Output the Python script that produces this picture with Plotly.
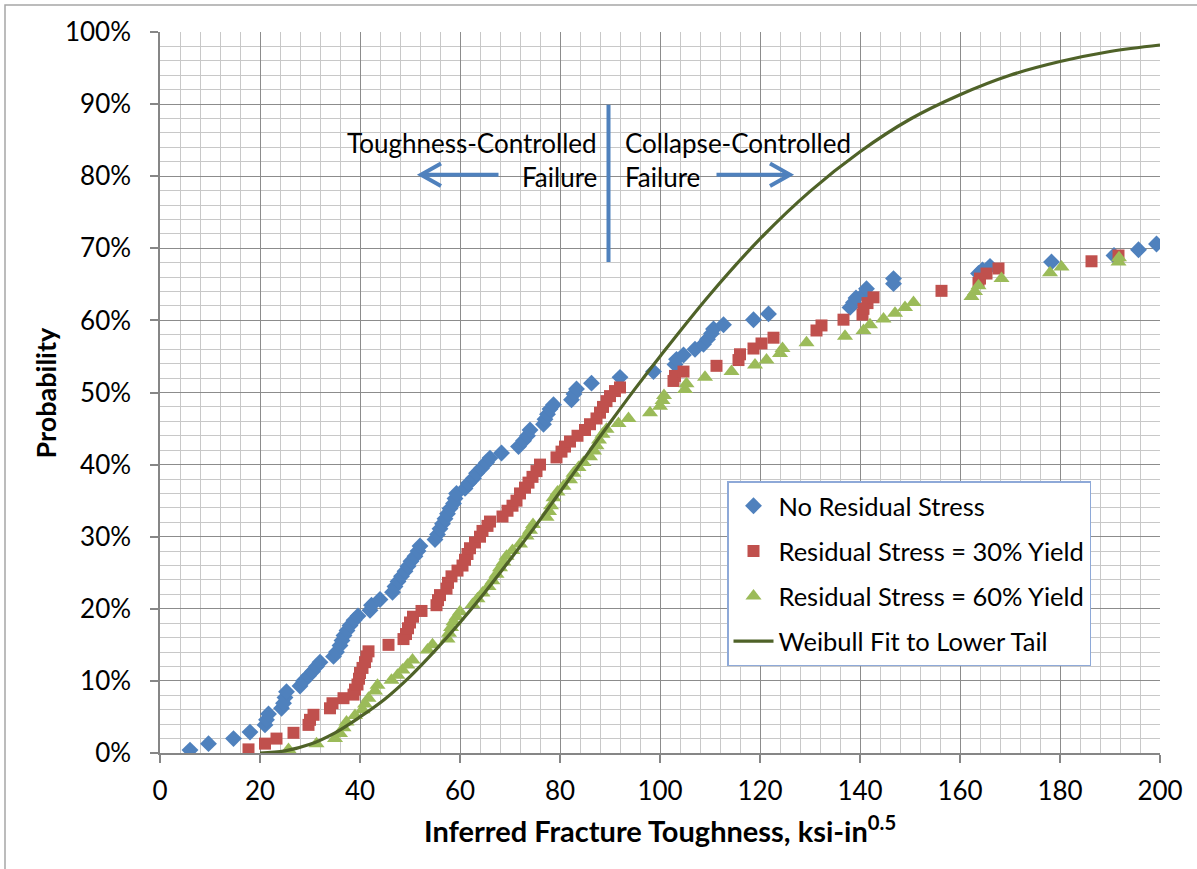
import plotly.graph_objects as go

# --- Inferred fracture toughness (ksi-in^0.5) and cumulative probability (%) ---
no_rs_x = [6, 9.7, 14.7, 18, 21, 21.3, 21.7, 24.3, 24.7, 25, 25.3, 28, 28.7, 29.7, 30.5, 31.3, 32,
           34.7, 35.3, 36, 36.4, 36.8, 37.4, 38, 38.8, 39.6, 42, 42.3, 44, 46.5, 47, 47.6, 48.3, 49,
           49.6, 50.2, 51, 51.6, 52, 55, 55.5, 56, 56.5, 57, 57.5, 58, 58.7, 59, 59.3, 61, 61.7, 62.7,
           63.3, 64.3, 65.3, 66, 68.3, 71.7, 72.7, 73.5, 74, 76.7, 77, 77.5, 78, 78.7, 82.3, 82.8,
           83.3, 86.3, 92, 98.7, 103, 103.3, 104.7, 107, 108.7, 109.5, 110.3, 110.7, 112.7, 118.7,
           121.7, 138, 138.7, 139.2, 141, 141.3, 146.7, 146.7, 163.7, 164.5, 166, 178.3, 190.8,
           195.7, 199.3]
no_rs_p = [0.4, 1.3, 2.0, 2.9, 3.9, 4.6, 5.4, 6.2, 6.9, 7.7, 8.5, 9.3, 10.0, 10.7, 11.3, 12.0, 12.6,
           13.4, 14.0, 14.9, 15.6, 16.3, 17.0, 17.7, 18.4, 19.0, 19.8, 20.5, 21.3, 22.3, 23.1, 23.8,
           24.5, 25.2, 25.9, 26.6, 27.3, 28.0, 28.7, 29.6, 30.3, 31.1, 31.8, 32.5, 33.2, 33.9, 34.6,
           35.3, 36.0, 36.7, 37.4, 38.1, 38.8, 39.5, 40.3, 40.9, 41.6, 42.5, 43.3, 44.0, 44.8, 45.6,
           46.3, 47.0, 47.7, 48.3, 49.0, 49.8, 50.5, 51.3, 52.1, 52.9, 53.9, 54.6, 55.2, 56.0, 56.7,
           57.4, 58.2, 58.8, 59.4, 60.1, 60.9, 61.8, 62.5, 63.1, 63.8, 64.4, 65.1, 65.8, 66.5, 67.0,
           67.5, 68.1, 69.0, 69.8, 70.6]

rs30_x = [17.7, 21, 23.3, 26.7, 29.7, 30, 30.7, 34, 34.5, 36.7, 38.7, 39, 39.5, 39.8, 40, 40.5, 41,
          41.3, 41.7, 45.7, 48.7, 49.2, 49.6, 50, 50.6, 52.3, 55.3, 55.6, 56, 57.3, 57.6, 58.3, 59.5,
          60.5, 61, 61.5, 62, 63, 64, 64.5, 65.5, 66, 68.5, 69.5, 70.5, 71.3, 72, 73, 73.7, 74.5,
          75.3, 76, 79.3, 80.3, 81, 82, 83.5, 85, 86, 87.3, 88, 88.6, 89.3, 90, 91, 92, 102.7, 103,
          104.7, 111.3, 115.7, 116, 118.7, 120.3, 122.7, 131.3, 132.3, 136.7, 140.5, 140.7, 141.5,
          142.7, 156.3, 163.7, 164, 165.3, 167.7, 186.3, 191.7]
rs30_p = [0.5, 1.3, 2.0, 2.8, 3.9, 4.6, 5.3, 6.2, 6.9, 7.6, 8.1, 8.8, 9.5, 10.3, 11.1, 11.8, 12.6,
          13.4, 14.1, 15.0, 15.8, 16.5, 17.3, 18.1, 18.9, 19.7, 20.5, 21.2, 21.9, 22.8, 23.6, 24.5,
          25.3, 26.0, 26.8, 27.6, 28.4, 29.2, 30.0, 30.8, 31.5, 32.1, 32.8, 33.6, 34.3, 35.0, 36.0,
          36.8, 37.5, 38.3, 39.1, 40.0, 41.0, 41.8, 42.5, 43.2, 44.0, 44.8, 45.6, 46.4, 47.2, 48.0,
          48.8, 49.5, 50.2, 50.7, 51.6, 52.3, 52.9, 53.7, 54.5, 55.3, 56.1, 56.8, 57.6, 58.6, 59.3,
          60.1, 60.8, 61.6, 62.4, 63.2, 64.1, 65.2, 65.8, 66.5, 67.2, 68.2, 69.0]

rs60_x = [25.7, 31.3, 35, 36, 36.7, 37.3, 39, 40.5, 41, 41.7, 43, 43.5, 46.3, 47.5, 48.5, 49.5, 50.5,
          53.5, 54.5, 57.5, 57.8, 58.2, 58.7, 59.3, 60, 62.5, 63.5, 64.5, 65.7, 66.5, 67.3, 68, 68.7,
          69.3, 70.5, 72, 73.3, 74, 74.6, 77.3, 77.8, 78.2, 78.7, 79.5, 80.7, 82, 82.7, 83.7, 84.7,
          86, 86.8, 87.3, 87.8, 88.5, 89.3, 91.7, 93.7, 98, 100, 100.5, 100.8, 105, 105.3, 109,
          114.3, 119, 121.3, 124, 124.5, 129.3, 137, 140.7, 142, 144.7, 147, 149, 150.7, 162.3, 163,
          163.7, 168.3, 178, 180.3, 191.7, 191.8]
rs60_p = [0.5, 1.3, 2.0, 2.7, 3.5, 4.3, 5.2, 6.0, 6.8, 7.6, 8.6, 9.4, 10.1, 10.8, 11.5, 12.2, 12.9,
          14.3, 15.0, 15.8, 16.6, 17.4, 18.2, 18.9, 19.6, 20.6, 21.4, 22.2, 23.1, 23.9, 24.8, 25.7,
          26.5, 27.3, 28.1, 29.0, 30.1, 30.9, 31.7, 32.7, 33.5, 34.3, 35.4, 36.2, 37.0, 37.9, 38.8,
          39.6, 40.3, 41.1, 41.9, 42.6, 43.4, 44.2, 44.9, 45.7, 46.4, 47.2, 48.1, 48.9, 49.6, 50.4,
          51.2, 52.1, 52.9, 53.8, 54.5, 55.4, 56.1, 56.9, 57.8, 58.6, 59.4, 60.2, 61.0, 61.8, 62.5,
          63.3, 64.0, 64.8, 65.8, 66.6, 67.4, 68.1, 68.7]

weibull_x = [20, 25, 30, 35, 40, 45, 50, 55, 60, 65, 70, 75, 80, 85, 90, 95, 100, 110, 120, 130,
             140, 150, 160, 170, 180, 190, 200]
weibull_p = [0.0, 0.3, 1.2, 2.8, 5.0, 7.5, 10.6, 14.2, 18.1, 22.3, 26.8, 31.4, 36.2, 41.0, 45.8,
             50.5, 55.0, 63.6, 71.3, 77.9, 83.4, 87.9, 91.3, 94.0, 95.9, 97.3, 98.2]

x_ticks = list(range(0, 201, 20))
y_ticks = list(range(0, 101, 10))
y_tick_labels = [f"{v}%" for v in y_ticks]

BLUE = "#4F81BD"
RED = "#C0504D"
GREEN = "#9BBB59"
OLIVE = "#4F6228"
FONT = "Lato"

fig = go.Figure()
fig.add_trace(go.Scatter(x=no_rs_x, y=no_rs_p, mode="markers", name="No Residual Stress",
                         legendgroup="a",
                         marker=dict(symbol="diamond", size=13, color=BLUE, line=dict(width=0))))
fig.add_trace(go.Scatter(x=rs30_x, y=rs30_p, mode="markers", name="Residual Stress = 30% Yield",
                         legendgroup="b",
                         marker=dict(symbol="square", size=12, color=RED, line=dict(width=0))))
fig.add_trace(go.Scatter(x=rs60_x, y=rs60_p, mode="markers", name="Residual Stress = 60% Yield",
                         legendgroup="c",
                         marker=dict(symbol="triangle-up", size=14, color=GREEN, line=dict(width=0))))
fig.add_trace(go.Scatter(x=weibull_x, y=weibull_p, mode="lines", name="Weibull Fit to Lower Tail",
                         legendgroup="d",
                         line=dict(color=OLIVE, width=3.2, shape="spline")))

axis_common = dict(
    showline=True, linecolor="#868686", linewidth=1.5, mirror=False,
    ticks="outside", ticklen=8, tickcolor="#868686", tickwidth=1.5,
    showgrid=True, gridcolor="#8C8C8C", gridwidth=1.3, zeroline=False,
    tickfont=dict(family=FONT, size=26, color="#000000"),
)

fig.update_xaxes(range=[0, 200], tickmode="array", tickvals=x_ticks, ticklabelstandoff=6,
                 minor=dict(dtick=4, showgrid=True, gridcolor="#C8C8C8", gridwidth=1.3, ticks=""),
                 **axis_common)
fig.update_yaxes(range=[0, 100], tickmode="array", tickvals=y_ticks, ticktext=y_tick_labels,
                 ticklabelstandoff=14,
                 minor=dict(dtick=2, showgrid=True, gridcolor="#C8C8C8", gridwidth=1.3, ticks=""),
                 **axis_common)

# Boundary marker between the two failure regimes and the direction arrows
ARROW_Y = 80.2
shapes = [
    dict(type="line", xref="x", yref="y", x0=89.7, x1=89.7, y0=68.1, y1=89.9,
         line=dict(color=BLUE, width=4)),
    dict(type="line", xref="x", yref="y", x0=67.7, x1=52.4, y0=ARROW_Y, y1=ARROW_Y,
         line=dict(color=BLUE, width=4)),
    dict(type="path", xref="x", yref="y",
         path=f"M 56.2,{ARROW_Y + 1.55} L 52.2,{ARROW_Y} L 56.2,{ARROW_Y - 1.55}",
         line=dict(color=BLUE, width=4)),
    dict(type="line", xref="x", yref="y", x0=111.3, x1=125.8, y0=ARROW_Y, y1=ARROW_Y,
         line=dict(color=BLUE, width=4)),
    dict(type="path", xref="x", yref="y",
         path=f"M 122,{ARROW_Y + 1.55} L 126,{ARROW_Y} L 122,{ARROW_Y - 1.55}",
         line=dict(color=BLUE, width=4)),
    # outer chart frame
    dict(type="rect", xref="paper", yref="paper", x0=-0.155, x1=1.05, y0=-0.2, y1=1.0374,
         line=dict(color="#A6A6A6", width=1.5), layer="below"),
]

text_font = dict(family=FONT, size=26, color="#000000")
annotations = [
    dict(x=87.7, y=84.6, xref="x", yref="y", text="Toughness-Controlled", showarrow=False,
         xanchor="right", yanchor="middle", font=text_font),
    dict(x=87.7, y=79.9, xref="x", yref="y", text="Failure", showarrow=False,
         xanchor="right", yanchor="middle", font=text_font),
    dict(x=92.6, y=84.6, xref="x", yref="y", text="Collapse-Controlled", showarrow=False,
         xanchor="left", yanchor="middle", font=text_font),
    dict(x=92.6, y=79.9, xref="x", yref="y", text="Failure", showarrow=False,
         xanchor="left", yanchor="middle", font=text_font),
    dict(x=-0.115, y=0.5, xref="paper", yref="paper", text="<b>Probability</b>", showarrow=False,
         textangle=-90, xanchor="center", yanchor="middle",
         font=dict(family=FONT, size=27, color="#000000")),
    dict(x=0.5, y=-0.105, xref="paper", yref="paper",
         text="<b>Inferred Fracture Toughness, ksi-in<sup>0.5</sup></b>", showarrow=False,
         xanchor="center", yanchor="middle",
         font=dict(family=FONT, size=29, color="#000000")),
]

fig.update_layout(
    width=1197, height=869,
    margin=dict(l=160, r=37, t=32, b=116),
    paper_bgcolor="#FFFFFF", plot_bgcolor="#FFFFFF",
    font=dict(family=FONT, size=26, color="#000000"),
    shapes=shapes, annotations=annotations,
    showlegend=True,
    legend=dict(x=0.567, y=0.377, xanchor="left", yanchor="top",
                bgcolor="#FFFFFF", bordercolor="#8EA9D8", borderwidth=1.5,
                font=dict(family=FONT, size=25.5, color="#000000"),
                itemwidth=40, tracegroupgap=9, traceorder="grouped"),
)

fig.write_html("out.html")
